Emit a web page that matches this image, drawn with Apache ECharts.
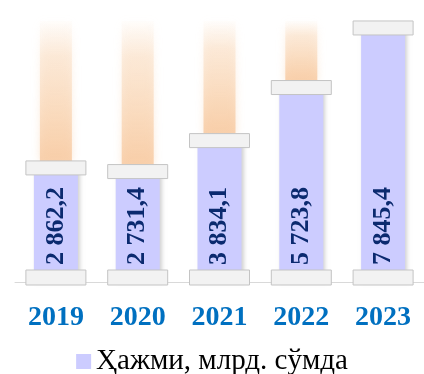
<!DOCTYPE html>
<html lang="uz">

<head>
    <meta charset="UTF-8">
    <title>Ҳажми</title>
    <script src="https://cdn.jsdelivr.net/npm/echarts@6/dist/echarts.min.js"></script>
    <style>
        * {
            padding: 0;
            margin: 0;
        }

        #main {
            width: 424px;
            height: 374px;
            background: #fff;
        }
    </style>
</head>

<body>
    <div id="main"></div>

    <script>
        // data
        var years = ['2019', '2020', '2021', '2022', '2023'];
        var volumes = [2862.2, 2731.4, 3834.1, 5723.8, 7845.4];
        var seriesName = 'Ҳажми, млрд. сўмда';

        // axis range (the bars start from the axis minimum, like the original)
        var AXIS_MIN = -1200;
        var AXIS_MAX = 8200;

        function fmt(v) {
            var parts = v.toFixed(1).split('.');
            var intPart = parts[0].replace(/\B(?=(\d{3})+(?!\d))/g, ' ');
            return intPart + ',' + parts[1];
        }

        var chart = echarts.init(document.getElementById('main'));

        function renderItem(params, api) {
            var idx = api.value(0);
            var v = api.value(1);
            var top = api.coord([idx, v]);
            var base = api.coord([idx, AXIS_MIN]);
            var full = api.coord([idx, AXIS_MAX]);
            var cx = top[0];
            var children = [];

            // pale "remainder" column above the bar
            var ghostTop = full[1] + 3;
            var ghostBottom = top[1] - 7;
            if (ghostBottom - ghostTop > 4) {
                children.push({
                    type: 'rect',
                    shape: { x: cx - 16, y: ghostTop, width: 32, height: ghostBottom - ghostTop },
                    style: {
                        fill: new echarts.graphic.LinearGradient(0, 0, 0, 1, [
                            { offset: 0, color: 'rgba(250,225,200,0.05)' },
                            { offset: 0.25, color: 'rgba(249,215,182,0.38)' },
                            { offset: 0.7, color: 'rgba(248,205,165,0.62)' },
                            { offset: 1, color: 'rgba(247,198,155,0.78)' }
                        ]),
                        shadowBlur: 8,
                        shadowColor: 'rgba(247,205,165,0.6)'
                    }
                });
            }

            // main bar
            children.push({
                type: 'rect',
                shape: { x: cx - 22, y: top[1], width: 44, height: base[1] - top[1] },
                style: {
                    fill: '#ccccff',
                    shadowBlur: 4,
                    shadowOffsetX: 2,
                    shadowColor: 'rgba(0,0,0,0.18)'
                }
            });

            // value text, rotated
            children.push({
                type: 'text',
                x: cx,
                y: base[1] - 17,
                rotation: Math.PI / 2,
                style: {
                    text: fmt(v),
                    x: 0,
                    y: 0,
                    align: 'left',
                    verticalAlign: 'middle',
                    fill: '#0b2a6f',
                    font: 'bold 26px "Liberation Serif"'
                }
            });

            // bottom cap
            children.push({
                type: 'rect',
                shape: { x: cx - 30, y: base[1] - 12, width: 60, height: 15 },
                style: { fill: '#f2f2f2', stroke: '#c4c4c4', lineWidth: 1 }
            });

            // top cap
            children.push({
                type: 'rect',
                shape: { x: cx - 30, y: top[1] - 7, width: 60, height: 14 },
                style: { fill: '#f2f2f2', stroke: '#c4c4c4', lineWidth: 1 }
            });

            return { type: 'group', children: children };
        }

        var option = {
            animation: false,
            grid: {
                left: 15,
                right: -1,
                top: 18,
                bottom: 92
            },
            legend: {
                data: [{ name: seriesName, icon: 'rect' }],
                bottom: -7,
                left: 'center',
                itemWidth: 15,
                itemHeight: 15,
                itemGap: 5,
                textStyle: {
                    fontFamily: 'Liberation Serif',
                    fontSize: 29,
                    color: '#000'
                }
            },
            xAxis: {
                type: 'category',
                data: years,
                axisTick: { show: false },
                axisLine: { onZero: false, lineStyle: { color: '#d9d9d9', width: 1 } },
                axisLabel: {
                    color: '#0070c0',
                    fontWeight: 'bold',
                    fontFamily: 'Liberation Serif',
                    fontSize: 28,
                    margin: 22
                }
            },
            yAxis: {
                type: 'value',
                min: AXIS_MIN,
                max: AXIS_MAX,
                show: false,
                splitLine: { show: false }
            },
            series: [{
                name: seriesName,
                type: 'custom',
                renderItem: renderItem,
                itemStyle: { color: '#ccccff' },
                encode: { x: 0, y: 1 },
                data: volumes.map(function (v, i) { return [i, v]; })
            }]
        };

        chart.setOption(option);
    </script>
</body>

</html>
